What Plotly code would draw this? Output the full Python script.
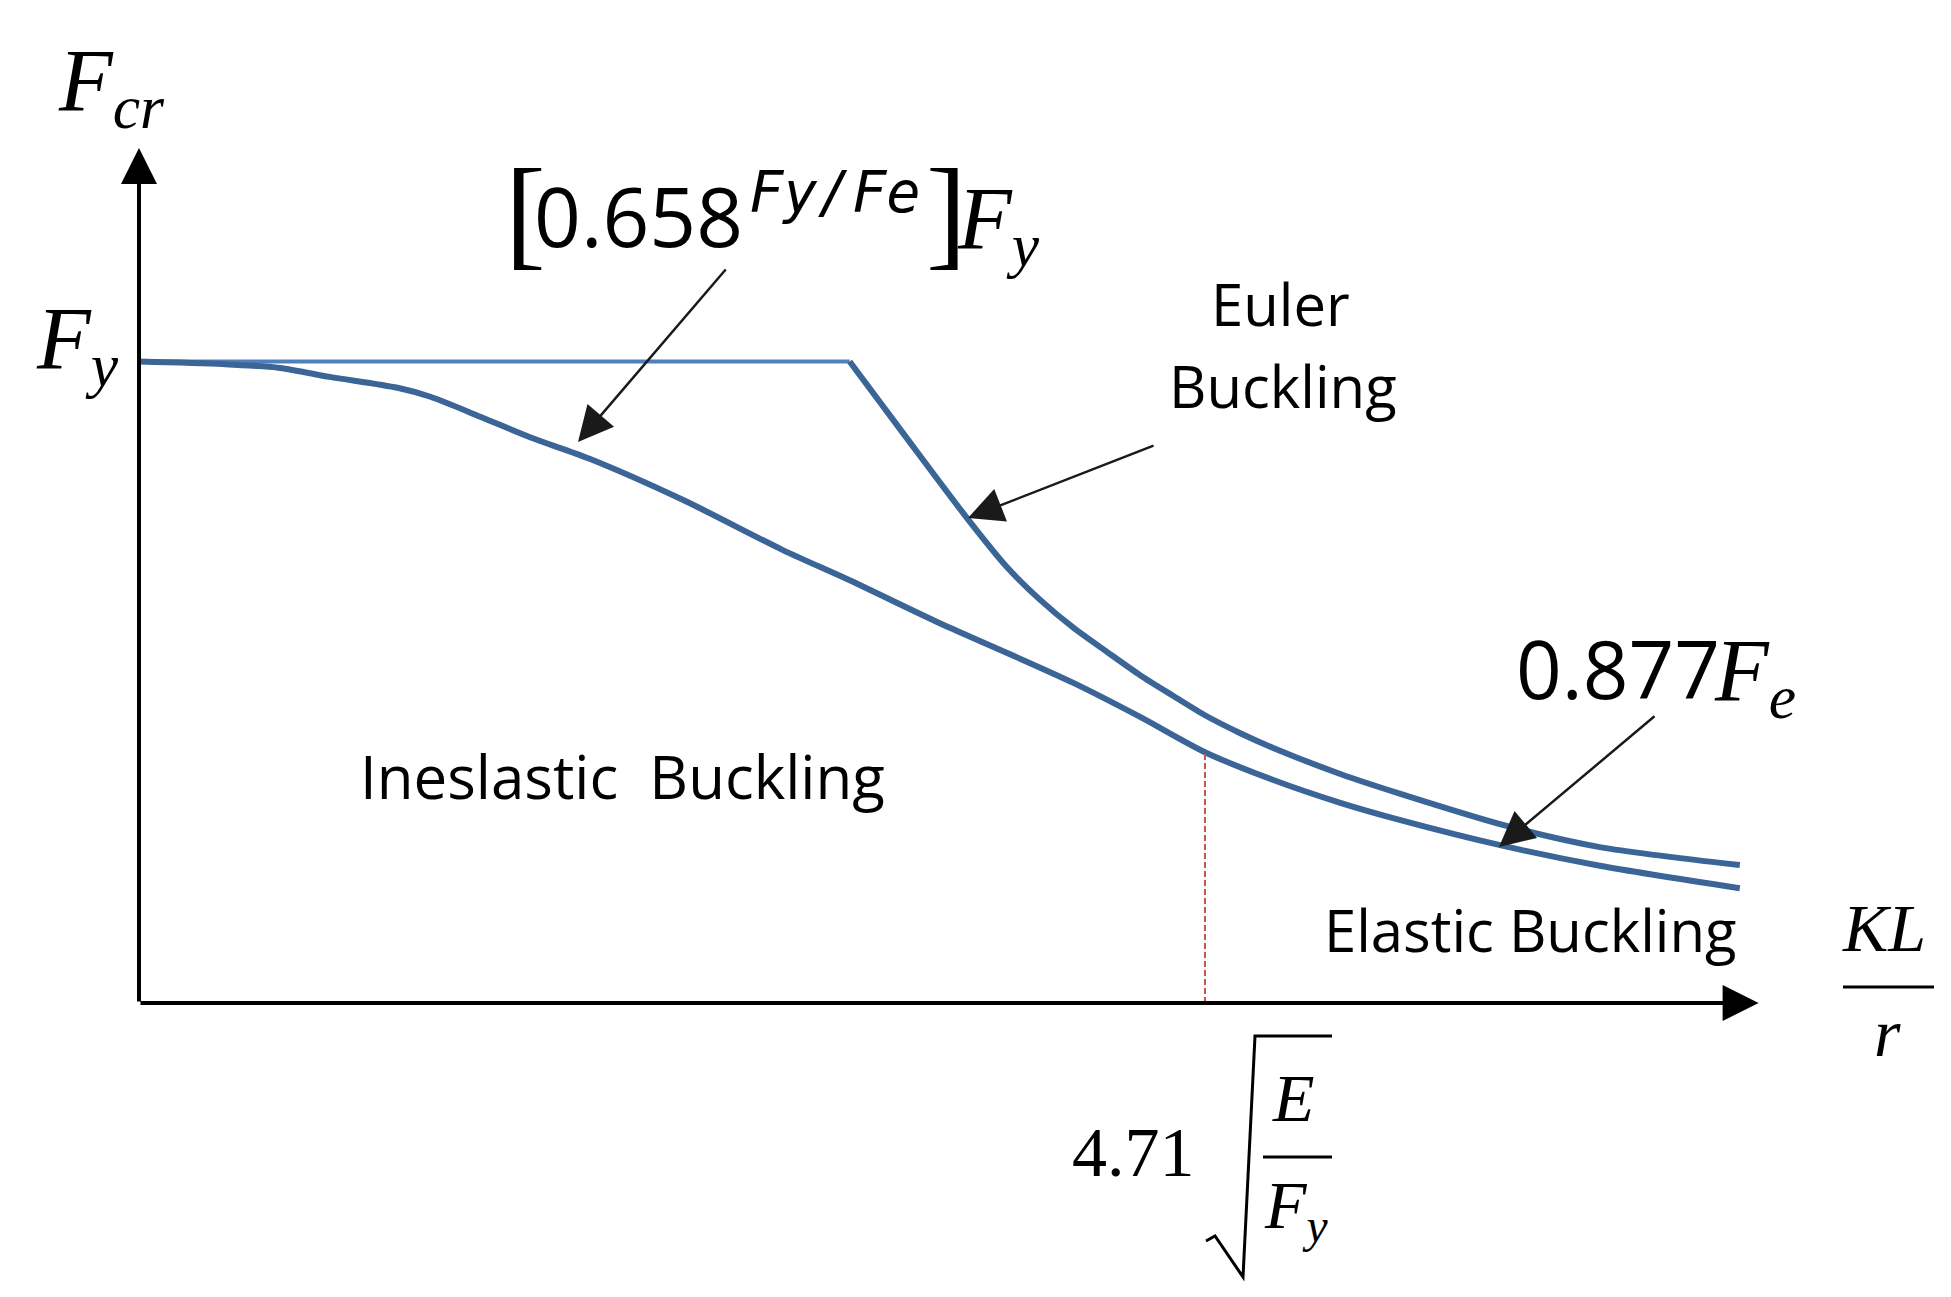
import plotly.graph_objects as go

W, H = 1951, 1297

# calibration: pixel of the origin and pixels per unit
X0_PX, Y0_PX = 139, 1003
X_SCALE, Y_SCALE = 9.40, 641.5

FY = 1.0
PLATEAU_X = [0.0, 75.6]
PLATEAU_Y = [FY, FY]

EULER_X = [75.6, 81.5, 88.4, 92.3, 95.9, 99.4, 103.0, 106.5, 110.0, 113.6, 117.1, 120.6,
           127.8, 134.2, 145.5, 155.4, 170.3]
EULER_Y = [1.0, 0.884, 0.750, 0.680, 0.628, 0.585, 0.547, 0.511, 0.479, 0.447, 0.421, 0.398,
           0.357, 0.326, 0.276, 0.243, 0.215]

INELASTIC_X = [0.0, 8.9, 15.0, 20.3, 27.5, 31.0, 36.3, 41.6, 48.0, 57.9, 68.5, 75.6, 85.2,
               92.3, 99.4, 106.5, 113.4, 120.6, 127.8, 134.2, 144.8, 155.4, 170.3]
INELASTIC_Y = [1.0, 0.996, 0.990, 0.976, 0.959, 0.945, 0.914, 0.882, 0.848, 0.784, 0.706, 0.659,
               0.592, 0.546, 0.499, 0.446, 0.391, 0.348, 0.312, 0.285, 0.246, 0.214, 0.179]

LIMIT_X = 113.4          # 4.71*sqrt(E/Fy)
LIMIT_Y = 0.391
AXIS_X_END = 172.3
AXIS_Y_END = 1.333

CURVE = "#3B6597"
PLATEAU = "#4F81BD"
RED = "#C9544F"
SANS = "Open Sans"
SERIF = "Liberation Serif"
MONO = "DejaVu Sans Mono"
DESC = {SANS: 0.293, SERIF: 0.216, MONO: 0.236}


def px(x):
    return x / W


def py(y):
    return 1 - y / H


fig = go.Figure()

fig.add_trace(go.Scatter(x=PLATEAU_X, y=PLATEAU_Y, mode="lines",
                         line=dict(color=PLATEAU, width=4)))
fig.add_trace(go.Scatter(x=INELASTIC_X, y=INELASTIC_Y, mode="lines",
                         line=dict(color=CURVE, width=6, shape="spline", smoothing=0.8)))
fig.add_trace(go.Scatter(x=EULER_X, y=EULER_Y, mode="lines",
                         line=dict(color=CURVE, width=6, shape="spline", smoothing=0.8)))
fig.add_trace(go.Scatter(x=[LIMIT_X, LIMIT_X], y=[0, LIMIT_Y], mode="lines",
                         line=dict(color=RED, width=2, dash="6px,3px")))

# axes with arrow heads
for tip in [(0, AXIS_Y_END), (AXIS_X_END, 0)]:
    fig.add_annotation(x=tip[0], y=tip[1], ax=0, ay=0, xref="x", yref="y", axref="x", ayref="y",
                       text="", showarrow=True, arrowhead=2, arrowsize=1.8, arrowwidth=4,
                       arrowcolor="black")

# pointer arrows (tip px, tail px)
for (tx, ty), (sx, sy) in [((578, 442), (727, 268)), ((968, 518), (1155, 445)),
                           ((1499, 847), (1656, 715))]:
    fig.add_annotation(x=px(tx), y=py(ty), xref="paper", yref="paper", ax=sx - tx, ay=sy - ty,
                       axref="pixel", ayref="pixel", text="", showarrow=True, arrowhead=2,
                       arrowsize=2.8, arrowwidth=2.5, arrowcolor="#1a1a1a")


def label(text, x, base, size, family, anchor="left", sub=False):
    d = DESC[family]
    if sub:
        d = max(d, 0.21 + 0.7 * d)
    bottom = base + d * size + 1
    fig.add_annotation(x=px(x), y=py(bottom), xref="paper", yref="paper", text=text,
                       showarrow=False, xanchor=anchor, yanchor="bottom",
                       font=dict(family=family, size=size, color="black"))


# axis labels
label("<i>F</i><sub><i>cr</i></sub>", 56, 110, 88, SERIF, sub=True)
label("<i>F</i><sub><i>y</i></sub>", 34, 368, 88, SERIF, sub=True)

# inelastic formula
label("[", 503, 255, 122, SERIF)
label("0.658", 532, 248, 82, SANS)
label("<i>Fy/Fe</i>", 747, 213, 57, MONO)
label("]", 924, 255, 122, SERIF)
label("<i>F</i><sub><i>y</i></sub>", 955, 248, 88, SERIF, sub=True)

# region texts
label("Euler", 1280, 327, 58, SANS, anchor="center")
label("Buckling", 1283, 409, 58, SANS, anchor="center")
label("Ineslastic\u00a0\u00a0Buckling", 358, 800, 60, SANS)
label("Elastic Buckling", 1322, 953, 58, SANS)

# elastic formula
label("0.877", 1514, 700, 80, SANS)
label("<i>F</i><sub><i>e</i></sub>", 1712, 700, 88, SERIF, sub=True)

# KL/r
label("<i>KL</i>", 1840, 952, 68, SERIF)
label("<i>r</i>", 1872, 1057, 68, SERIF)

# 4.71 sqrt(E/Fy)
label("4.71", 1070, 1177, 70, SERIF)
label("<i>E</i>", 1270, 1122, 68, SERIF)
label("<i>F</i><sub><i>y</i></sub>", 1262, 1228, 68, SERIF, sub=True)

shapes = [
    dict(type="line", xref="paper", yref="paper", x0=px(1843), x1=px(1934), y0=py(987), y1=py(987),
         line=dict(color="black", width=3)),
    dict(type="line", xref="paper", yref="paper", x0=px(1263), x1=px(1332), y0=py(1157), y1=py(1157),
         line=dict(color="black", width=3)),
    dict(type="path", xref="paper", yref="paper",
         path="M {:.5f},{:.5f} L {:.5f},{:.5f} L {:.5f},{:.5f} L {:.5f},{:.5f} L {:.5f},{:.5f}".format(
             px(1206), py(1241), px(1215), py(1236), px(1243), py(1277), px(1255), py(1036),
             px(1332), py(1036)),
         line=dict(color="black", width=3)),
]

fig.update_layout(
    width=W, height=H, autosize=False,
    margin=dict(l=0, r=0, t=0, b=0),
    paper_bgcolor="white", plot_bgcolor="white",
    showlegend=False,
    xaxis=dict(range=[-X0_PX / X_SCALE, (W - X0_PX) / X_SCALE], visible=False, fixedrange=True),
    yaxis=dict(range=[-(H - Y0_PX) / Y_SCALE, Y0_PX / Y_SCALE], visible=False, fixedrange=True),
    shapes=shapes,
    hovermode=False,
)

fig.write_html("out.html", config={"displayModeBar": False},
               post_script="document.body.style.margin='0';document.body.style.overflow='hidden';")
